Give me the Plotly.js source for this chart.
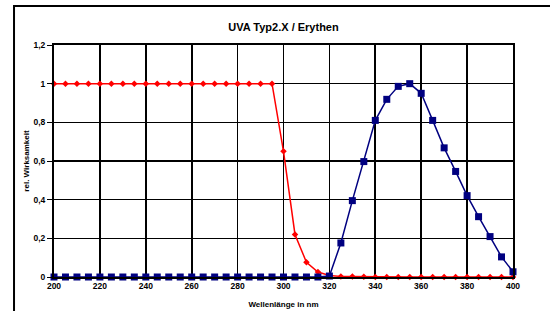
<!DOCTYPE html>
<html>
<head>
<meta charset="utf-8">
<script src="https://cdn.plot.ly/plotly-3.0.1.min.js"></script>
<style>
html,body{margin:0;padding:0;background:#fff;}
#chart{width:550px;height:311px;}
</style>
</head>
<body>
<div id="chart"></div>
<script>
const wavelengths = [200,205,210,215,220,225,230,235,240,245,250,255,260,265,270,275,280,285,290,295,
  300,305,310,315,320,325,330,335,340,345,350,355,360,365,370,375,380,385,390,395,400];
const erythen = [1,1,1,1,1,1,1,1,1,1,1,1,1,1,1,1,1,1,1,1,
  0.65,0.22,0.076,0.026,0.008,0.003,0.002,0.001,0,0,0,0,0,0,0,0,0,0,0,0,0];
const uvaTyp2X = [0,0,0,0,0,0,0,0,0,0,0,0,0,0,0,0,0,0,0,0,
  0,0,0,0,0.005,0.176,0.395,0.597,0.81,0.919,0.986,1.0,0.95,0.81,0.668,0.546,0.421,0.312,0.209,0.104,0.027];
const xTickVals = [200,220,240,260,280,300,320,340,360,380,400];
const yTickVals = [0,0.2,0.4,0.6,0.8,1,1.2];
const yTickText = ['0','0,2','0,4','0,6','0,8','1','1,2'];

const font = 'Liberation Sans, Arial, sans-serif';

const traces = [
  {
    x: wavelengths, y: erythen, name: 'Erythen', type: 'scatter', mode: 'lines+markers',
    line: {color: '#ff0000', width: 1.5},
    marker: {symbol: 'diamond', size: 5, color: '#ff0000'},
    cliponaxis: false
  },
  {
    x: wavelengths, y: uvaTyp2X, name: 'UVA Typ2.X', type: 'scatter', mode: 'lines+markers',
    line: {color: '#000080', width: 1.5},
    marker: {symbol: 'square', size: 7, color: '#000080'},
    cliponaxis: false
  }
];

const tickFont = {family: font, size: 8.5, color: '#000', weight: 'bold'};

const layout = {
  width: 550, height: 311,
  margin: {l: 54, r: 37, t: 45, b: 34},
  paper_bgcolor: '#ffffff', plot_bgcolor: '#ffffff',
  showlegend: false,
  font: {family: font, color: '#000', size: 8},
  title: {text: 'UVA Typ2.X / Erythen', font: {family: font, size: 11, color: '#000', weight: 'bold'},
          x: 0.5, xref: 'paper', xanchor: 'center', y: 0.913, yref: 'container', yanchor: 'middle'},
  xaxis: {
    range: [200, 400], tickvals: xTickVals, ticktext: xTickVals.map(String),
    showgrid: true, gridcolor: '#000', gridwidth: 1.6,
    zeroline: false, showline: true, linecolor: '#000', linewidth: 2, mirror: true,
    ticks: '', ticklen: 0, tickfont: tickFont,
    title: {text: 'Wellenlänge in nm', font: {family: font, size: 8, color: '#000', weight: 'bold'}, standoff: 11},
    automargin: false, fixedrange: true
  },
  yaxis: {
    range: [0, 1.2], tickvals: yTickVals, ticktext: yTickText,
    showgrid: true, gridcolor: '#000', gridwidth: 1.6,
    zeroline: false, showline: true, linecolor: '#000', linewidth: 2, mirror: true,
    ticks: 'outside', ticklen: 5, tickcolor: '#000', tickwidth: 1,
    tickfont: tickFont,
    title: {text: 'rel. Wirksamkeit', font: {family: font, size: 8, color: '#000', weight: 'bold'}, standoff: 3},
    automargin: false, fixedrange: true
  },
  shapes: [
    {type: 'rect', xref: 'paper', yref: 'paper',
     x0: -0.0871, x1: 1.085, y0: -0.16, y1: 1.168,
     line: {color: '#000', width: 2}, fillcolor: 'rgba(0,0,0,0)', layer: 'above'}
  ]
};

Plotly.newPlot('chart', traces, layout, {displayModeBar: false, staticPlot: true});
</script>
</body>
</html>
